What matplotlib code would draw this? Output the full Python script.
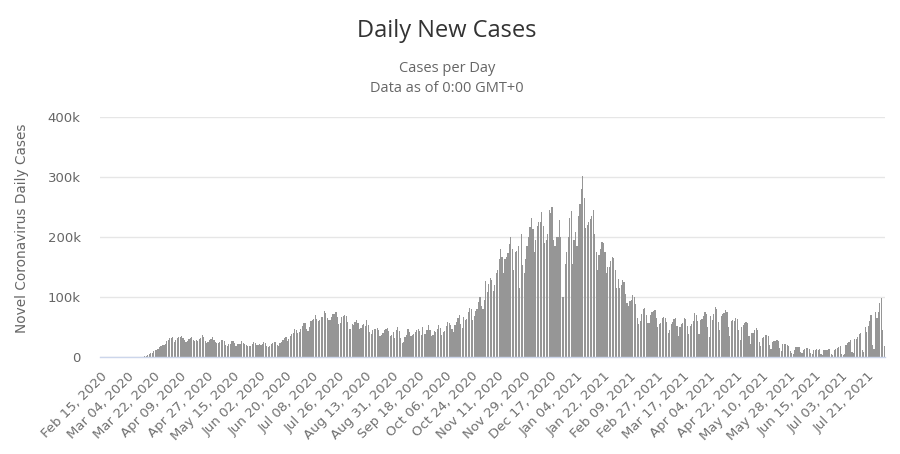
import datetime as dt
import matplotlib
matplotlib.use("Agg")
import matplotlib.pyplot as plt
from matplotlib.ticker import FuncFormatter, FixedLocator

# ---------------- data (daily new cases) ----------------
start_date = dt.date(2020, 2, 15)

feb_2020 = [0, 0, 0, 0, 0, 0, 0, 0, 0, 0, 1, 2, 1, 5, 7]
mar_2020 = [8, 20, 24, 22, 76, 65, 102, 125, 120, 300, 400, 480, 740, 730, 740,
            1400, 2100, 3000, 5000, 6400, 7200, 9500, 11000, 11000, 13000, 17500,
            19000, 19500, 20000, 21000, 26000]
apr_2020 = [29000, 32000, 32000, 34000, 25000, 29000, 32000, 33000, 34000, 35000,
            31000, 28000, 25000, 26000, 30000, 31000, 33000, 28000, 26000, 28000,
            27000, 30000, 32000, 36000, 34000, 26000, 24000, 25000, 28000, 30000]
may_2020 = [33000, 29000, 25000, 23000, 24000, 25000, 29000, 28000, 26000, 20000,
            18000, 22000, 21000, 27000, 26000, 24000, 19000, 22000, 21000, 22000,
            27000, 24000, 22000, 20000, 18000, 19000, 19000, 22000, 25000, 24000, 20000]
jun_2020 = [20000, 21000, 20000, 21000, 25000, 23000, 18000, 17000, 19000, 21000,
            23000, 25000, 25000, 20000, 19000, 23000, 25000, 28000, 32000, 33000,
            27000, 30000, 35000, 38000, 40000, 46000, 45000, 40000, 42000, 46000]
jul_2020 = [52000, 57000, 57000, 46000, 44000, 50000, 60000, 62000, 63000, 70000,
            64000, 60000, 62000, 67000, 67000, 77000, 73000, 65000, 61000, 62000,
            67000, 71000, 72000, 75000, 66000, 55000, 57000, 66000, 69000, 70000, 68000]
aug_2020 = [58000, 47000, 46000, 55000, 54000, 59000, 62000, 56000, 46000, 48000,
            54000, 55000, 52000, 62000, 54000, 42000, 38000, 45000, 47000, 46000,
            48000, 45000, 35000, 36000, 40000, 45000, 46000, 48000, 44000, 35000, 36000]
sep_2020 = [42000, 32000, 45000, 50000, 43000, 31000, 24000, 25000, 34000, 36000,
            46000, 41000, 35000, 36000, 39000, 41000, 45000, 47000, 43000, 36000,
            50000, 39000, 39000, 45000, 53000, 45000, 35000, 36000, 43000, 41000]
oct_2020 = [46000, 54000, 49000, 37000, 42000, 44000, 51000, 58000, 57000, 54000,
            47000, 42000, 53000, 59000, 65000, 70000, 55000, 48000, 66000, 62000,
            63000, 75000, 82000, 80000, 62000, 69000, 76000, 80000, 92000, 100000, 85000]
nov_2020 = [80000, 95000, 126000, 108000, 122000, 131000, 128000, 110000, 120000, 140000,
            145000, 164000, 180000, 166000, 140000, 163000, 166000, 173000, 188000, 200000,
            180000, 145000, 175000, 177000, 185000, 115000, 205000, 154000, 140000, 163000]
dec_2020 = [185000, 200000, 217000, 232000, 213000, 175000, 195000, 218000, 225000, 225000,
            242000, 218000, 190000, 195000, 205000, 245000, 240000, 250000, 195000, 185000,
            200000, 200000, 228000, 200000, 100000, 100000, 155000, 175000, 200000, 232000, 243000]
jan_2021 = [155000, 195000, 208000, 185000, 235000, 255000, 280000, 302000, 265000, 215000,
            220000, 225000, 230000, 235000, 245000, 205000, 175000, 145000, 170000, 180000,
            192000, 190000, 175000, 140000, 150000, 150000, 160000, 167000, 165000, 145000, 115000]
feb_2021 = [130000, 115000, 120000, 128000, 125000, 105000, 90000, 85000, 93000, 95000,
            103000, 100000, 88000, 65000, 55000, 60000, 72000, 80000, 82000, 70000,
            57000, 56000, 70000, 75000, 76000, 78000, 65000, 50000]
mar_2021 = [55000, 57000, 65000, 67000, 65000, 58000, 40000, 45000, 55000, 58000,
            64000, 65000, 52000, 35000, 50000, 55000, 57000, 65000, 63000, 52000,
            38000, 52000, 55000, 60000, 73000, 70000, 60000, 38000, 62000, 63000, 68000]
apr_2021 = [75000, 72000, 50000, 33000, 68000, 62000, 72000, 83000, 80000, 58000,
            45000, 68000, 72000, 74000, 78000, 75000, 50000, 35000, 60000, 62000,
            60000, 65000, 64000, 45000, 28000, 50000, 53000, 56000, 58000, 57000]
may_2021 = [35000, 22000, 40000, 40000, 45000, 48000, 45000, 25000, 18000, 32000,
            33000, 36000, 37000, 35000, 20000, 14000, 25000, 26000, 27000, 28000,
            26000, 15000, 10000, 22000, 21000, 22000, 20000, 18000, 10000, 7000, 5000]
jun_2021 = [12000, 16000, 16000, 17000, 8000, 6000, 12000, 14000, 15000, 15000,
            14000, 6000, 5000, 11000, 12000, 13000, 12000, 14000, 5000, 4000,
            11000, 11000, 12000, 13000, 14000, 5000, 4000, 12000, 13000, 15000]
jul_2021 = [16000, 18000, 5000, 3000, 5000, 20000, 24000, 25000, 28000, 8000,
            6000, 30000, 30000, 33000, 38000, 40000, 12000, 9000, 50000, 42000,
            52000, 60000, 70000, 20000, 13000, 75000, 65000, 75000, 90000, 98000, 45000]
aug_2021 = [18000]

daily_cases = (feb_2020 + mar_2020 + apr_2020 + may_2020 + jun_2020 + jul_2020 +
               aug_2020 + sep_2020 + oct_2020 + nov_2020 + dec_2020 + jan_2021 +
               feb_2021 + mar_2021 + apr_2021 + may_2021 + jun_2021 + jul_2021 + aug_2021)

dates = [start_date + dt.timedelta(days=i) for i in range(len(daily_cases))]
date_labels = [d.strftime("%b %d, %Y") for d in dates]
y_ticks = [0, 100000, 200000, 300000, 400000]
tick_every = 18

# ---------------- figure ----------------
plt.rcParams['font.family'] = ['DejaVu Sans']
W, H = 900, 454
fig = plt.figure(figsize=(W / 100, H / 100), dpi=100)
left, right, top, bottom = 100, 885, 117, 357
ax = fig.add_axes([left / W, 1 - bottom / H, (right - left) / W, (bottom - top) / H])

x = list(range(len(daily_cases)))
ax.bar(x, daily_cases, width=0.8, color='#969696', linewidth=0, zorder=2)

ax.set_xlim(-0.5, len(daily_cases) - 0.5)
ax.set_ylim(0, 400000)

ax.yaxis.set_major_locator(FixedLocator(y_ticks))
ax.yaxis.set_major_formatter(FuncFormatter(lambda v, p: "0" if v == 0 else f"{int(v/1000)}k"))
ax.grid(axis='y', color='#e6e6e6', linewidth=1, zorder=0)
ax.tick_params(axis='y', length=0, pad=14, labelsize=9.5, labelcolor='#666666')

tick_pos = x[::tick_every]
ax.set_xticks(tick_pos)
ax.set_xticklabels([date_labels[i] for i in tick_pos], rotation=45, ha='right',
                   rotation_mode='anchor', fontsize=9.5, color='#707070')
ax.tick_params(axis='x', length=0, pad=9)

for s in ['top', 'right', 'left']:
    ax.spines[s].set_visible(False)
ax.spines['bottom'].set_color('#ccd6eb')
ax.spines['bottom'].set_linewidth(1)
ax.spines['bottom'].set_zorder(3)

fig.text(22 / W, 1 - 228 / H, "Novel Coronavirus Daily Cases", rotation=90,
         ha='center', va='center', fontsize=9.8, color='#666666')

fig.text(447 / W, 1 - 31 / H, "Daily New Cases", ha='center', va='center',
         fontsize=17, color='#333333', family='Open Sans')
fig.text(447 / W, 1 - 69 / H, "Cases per Day", ha='center', va='center',
         fontsize=10.5, color='#666666', family='Open Sans')
fig.text(447 / W, 1 - 88 / H, "Data as of 0:00 GMT+0", ha='center', va='center',
         fontsize=10.5, color='#666666', family='Open Sans')

fig.savefig("out.png", dpi=100, facecolor='white')
